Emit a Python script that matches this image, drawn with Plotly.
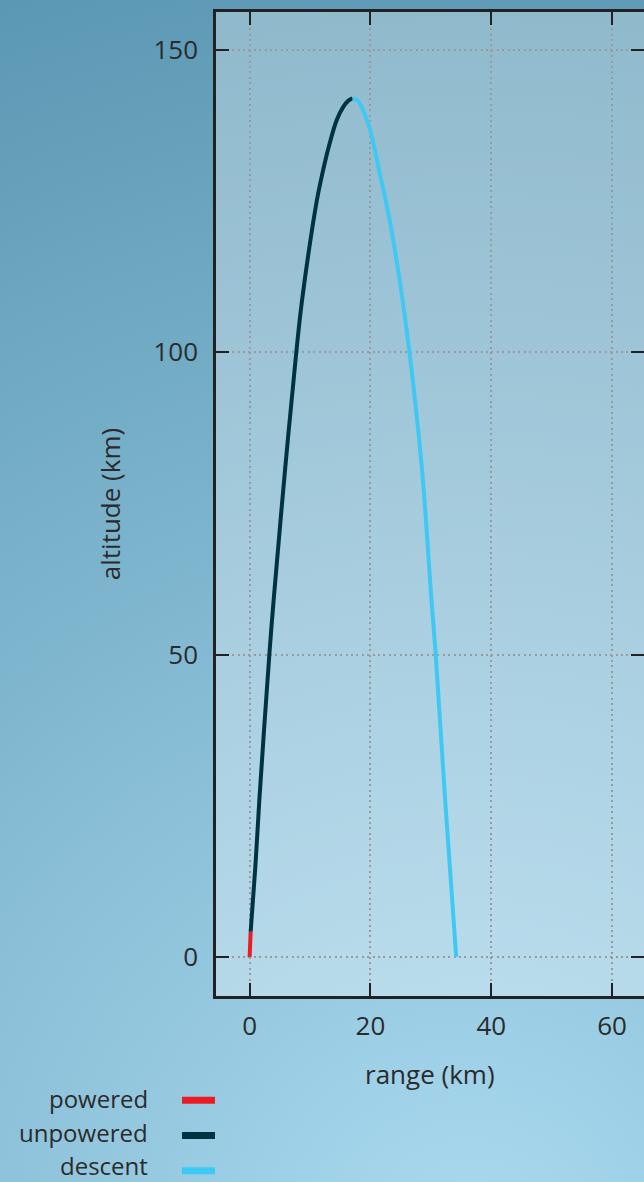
import base64
import plotly.graph_objects as go

# trajectory phases: range (km) vs altitude (km)
powered_x = [0.0, 0.17]
powered_y = [0.0, 4.2]

unpowered_x = [0.17, 0.94, 1.6, 3.26, 3.97, 5.9, 7.72, 8.66, 11.1, 11.8, 13.1, 14.4, 15.5, 16.3, 17.04]
unpowered_y = [4.2, 14.9, 25.9, 50.0, 59.0, 81.0, 100.0, 108.5, 125.0, 128.5, 134.0, 138.4, 140.6, 141.6, 142.0]

descent_x = [17.04, 17.9, 19.0, 19.96, 21.8, 22.55, 23.5, 24.85, 26.46, 28.5, 30.1, 30.8, 32.37, 34.19]
descent_y = [142.0, 141.6, 139.5, 136.7, 128.4, 125.0, 120.1, 111.8, 100.0, 81.0, 59.0, 50.0, 25.9, 0.0]

x_ticks = [0, 20, 40, 60]
y_ticks = [0, 50, 100, 150]
x_range = [-5.57, 65.28]
y_range = [-6.45, 156.3]

phase_names = ["powered", "unpowered", "descent"]
phase_colors = ["#ed1c24", "#003342", "#40c8f4"]

W, H = 644, 1182
ML, MR, MT, MB = 216, 0, 12, 186
PW, PH = W - ML - MR, H - MT - MB

FONT = "Open Sans, Noto Sans, sans-serif"
INK = "#2b2b2b"
AXIS = "#222222"


def px_to_paper(px, py):
    return (px - ML) / PW, 1 - (py - MT) / PH


# radial backdrop for the page plus a light veil over the plotting area
svg = f"""<svg xmlns='http://www.w3.org/2000/svg' width='{W}' height='{H}' viewBox='0 0 {W} {H}' preserveAspectRatio='none'>
<defs><radialGradient id='g' gradientUnits='userSpaceOnUse' cx='470' cy='1250' r='1350'>
<stop offset='0' stop-color='#aadaf0'/><stop offset='1' stop-color='#5a97b2'/>
</radialGradient></defs>
<rect width='{W}' height='{H}' fill='url(#g)'/>
<rect x='{ML}' y='{MT}' width='{PW}' height='{PH}' fill='#ffffff' fill-opacity='0.3'/></svg>"""
bg_src = "data:image/svg+xml;base64," + base64.b64encode(svg.encode()).decode()

fig = go.Figure()
for xs, ys, name, col in zip(
    [powered_x, unpowered_x, descent_x],
    [powered_y, unpowered_y, descent_y],
    phase_names,
    phase_colors,
):
    fig.add_trace(go.Scatter(
        x=xs, y=ys, name=name, mode="lines",
        line=dict(color=col, width=4, shape="spline", smoothing=1.0),
        showlegend=False, hoverinfo="skip",
    ))

tick_style = dict(
    automargin=False,
    ticks="inside", ticklen=13, tickwidth=2.2, tickcolor=AXIS,
    zeroline=False, showline=True, linecolor=AXIS, linewidth=2.5, mirror="ticks",
    showgrid=True, gridcolor="#9a9a9a", gridwidth=1.6, griddash="2px,3.4px",
    tickfont=dict(family=FONT, size=26, color=INK),
    title_font=dict(family=FONT, size=26, color=INK),
)

fig.update_layout(
    xaxis=dict(
        range=x_range, tickvals=x_ticks, ticktext=[str(v) for v in x_ticks],
        ticklabelstandoff=5, **tick_style,
    ),
    yaxis=dict(
        range=y_range, tickvals=y_ticks, ticktext=[str(v) for v in y_ticks],
        title_text="altitude (km)", title_standoff=26, ticklabelstandoff=10,
        **tick_style,
    ),
)

# x-axis title, centred under the plotting area
fig.add_annotation(
    x=0.5, y=px_to_paper(0, 1074)[1], xref="paper", yref="paper",
    text="range (km)", showarrow=False, xanchor="center", yanchor="middle",
    font=dict(family=FONT, size=26, color=INK),
)

# legend: label text on the left, colour swatch on the right
legend_text_rows = [1098.5, 1132.0, 1165.5]
legend_swatch_rows = [1100.3, 1135.5, 1170.7]
for name, col, trow, srow in zip(phase_names, phase_colors, legend_text_rows, legend_swatch_rows):
    tx, ty = px_to_paper(150, trow)
    fig.add_annotation(
        x=tx, y=ty, xref="paper", yref="paper", text=name, showarrow=False,
        xanchor="right", yanchor="middle",
        font=dict(family=FONT, size=24, color=INK),
    )
    x0, y0 = px_to_paper(182, srow)
    x1, _ = px_to_paper(215, srow)
    fig.add_shape(
        type="line", xref="paper", yref="paper", x0=x0, x1=x1, y0=y0, y1=y0,
        line=dict(color=col, width=7),
    )

img_x, img_y = px_to_paper(0, 0)
fig.add_layout_image(
    source=bg_src, xref="paper", yref="paper", x=img_x, y=img_y,
    sizex=W / PW, sizey=H / PH, xanchor="left", yanchor="top",
    sizing="stretch", layer="below",
)

fig.update_layout(
    width=W, height=H,
    margin=dict(l=ML, r=MR, t=MT, b=MB, pad=0, autoexpand=False),
    paper_bgcolor="#7fb6cf",
    plot_bgcolor="rgba(0,0,0,0)",
    font=dict(family=FONT, color=INK),
)

fig.write_html("out.html")
